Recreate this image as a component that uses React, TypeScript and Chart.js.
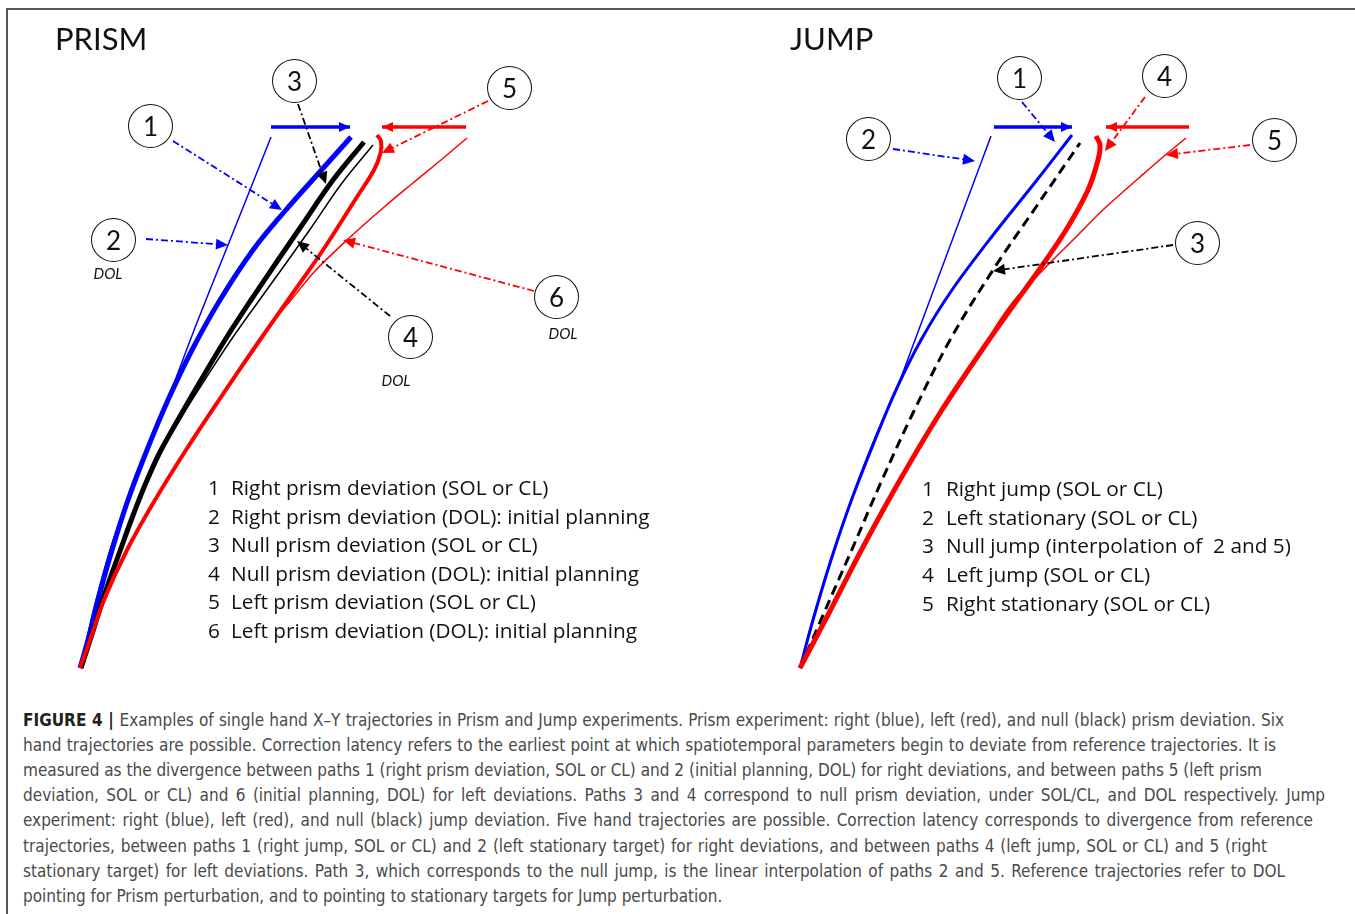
import React, { useEffect, useRef } from "react";
import { Chart, registerables } from "chart.js";

Chart.register(...registerables);

// ---------- PRISM trajectories (x: lateral, y: forward; origin = start of movement) ----------
const PRISM_P1_X = [0, 1.6, 3.6, 6.4, 9.6, 13.4, 17.6, 22.4, 28, 34.6, 41, 47.4, 54.2];
const PRISM_P1_Y = [0, 5.6, 13.6, 23.6, 33.6, 43.6, 53.6, 63.6, 73.6, 83.6, 91.4, 98.6, 106.2];

const PRISM_P2_X = [0, 1.3, 3.2, 6.0, 9.4, 13.2, 17.6, 19.8, 23.6, 28.4, 33.2, 38.2];
const PRISM_P2_Y = [0, 5.6, 13.6, 23.6, 33.6, 43.6, 53.6, 59.6, 69.6, 81.6, 93.6, 106.2];

const PRISM_P3_X = [0.2, 2.8, 5.2, 8, 10.4, 13, 16, 19.8, 24.2, 29, 34.2, 39.2, 44.4, 50.6, 56.8];
const PRISM_P3_Y = [0, 8, 15.6, 23.4, 30, 36.6, 43.2, 50, 57.6, 65.6, 73.6, 81, 88.6, 97.6, 105.2];

const PRISM_P4_X = [0.2, 2.9, 5.3, 8.1, 10.5, 13.1, 16.2, 20.4, 25.2, 30.2, 35.6, 40.8, 46.2, 52.4, 58.6];
const PRISM_P4_Y = [0, 8, 15.6, 23.4, 30, 36.6, 43.2, 50.4, 58, 65.6, 73.2, 80.4, 88, 97, 104.6];

const PRISM_P5_X = [0, 2, 4.8, 9.4, 15, 21.2, 27.8, 34.6, 41.6, 48.6, 55, 58.8, 60.1, 60.2, 59.4];
const PRISM_P5_Y = [0, 5.6, 13.6, 23.6, 33.6, 43.6, 53.6, 63.6, 73.6, 83.6, 93.6, 99.6, 103, 105.4, 106.6];

const PRISM_P6_X = [0, 1.9, 4.7, 9.3, 14.9, 21.1, 27.7, 34.4, 37.2, 42.2, 47.2, 53.4, 60.6, 66.6, 72.2, 77.4];
const PRISM_P6_Y = [0, 5.6, 13.6, 23.6, 33.6, 43.6, 53.6, 63.6, 67.6, 73.6, 79.6, 85.6, 92, 97, 101.6, 106];

const PRISM_TARGET_RIGHT_X = [38.2, 54];
const PRISM_TARGET_LEFT_X = [77.2, 60.4];
const PRISM_TARGET_Y = [108.2, 108.2];

// ---------- JUMP trajectories ----------
const JUMP_P1_X = [0, 2.6, 6.2, 10.3, 15, 19.2, 24.2, 30.4, 39.4, 47.4, 54.4];
const JUMP_P1_Y = [0, 9.6, 21.6, 33.6, 45.6, 55.6, 65.6, 75.6, 87.6, 97.6, 106.6];

const JUMP_P2_X = [0, 2.5, 6.1, 10.2, 14.8, 19.2, 23, 26.8, 30.6, 34.4, 38.2];
const JUMP_P2_Y = [0, 9.6, 21.6, 33.6, 45.6, 55.6, 65.6, 75.8, 86, 96.2, 106.4];

const JUMP_P3_X = [0, 4.8, 10.6, 16.4, 22.6, 30, 38.6, 47.2, 56];
const JUMP_P3_Y = [0, 11, 24.2, 37.6, 51, 65.6, 79.6, 92.2, 105];

const JUMP_P4_X = [0, 5.8, 12.6, 20, 28, 36.4, 42, 47.8, 53.2, 57.6, 59.6, 60, 59.2];
const JUMP_P4_Y = [0, 11, 24.2, 37.6, 51, 63.6, 71.6, 79.6, 87.6, 95.6, 101.6, 104.6, 106.4];

const JUMP_P5_X = [0, 5.8, 12.6, 20, 28, 36.4, 40, 43.4, 49, 54.6, 61, 68, 72.6, 77.2];
const JUMP_P5_Y = [0, 11, 24.2, 37.6, 51, 63.6, 69.6, 74.2, 80, 85.6, 92, 98.2, 102.2, 106];

const JUMP_TARGET_RIGHT_X = [38.8, 54.4];
const JUMP_TARGET_LEFT_X = [77.8, 61.2];
const JUMP_TARGET_Y = [108.2, 108.2];

// ---------- legends / labels ----------
const PRISM_LEGEND = [
  "Right prism deviation (SOL or CL)",
  "Right prism deviation (DOL): initial planning",
  "Null prism deviation (SOL or CL)",
  "Null prism deviation (DOL): initial planning",
  "Left prism deviation (SOL or CL)",
  "Left prism deviation (DOL): initial planning",
];
const JUMP_LEGEND = [
  "Right jump (SOL or CL)",
  "Left stationary (SOL or CL)",
  "Null jump (interpolation of  2 and 5)",
  "Left jump (SOL or CL)",
  "Right stationary (SOL or CL)",
];

const CAPTION_LINES = [
  "Examples of single hand X\u2013Y trajectories in Prism and Jump experiments. Prism experiment: right (blue), left (red), and null (black) prism deviation. Six",
  "hand trajectories are possible. Correction latency refers to the earliest point at which spatiotemporal parameters begin to deviate from reference trajectories. It is",
  "measured as the divergence between paths 1 (right prism deviation, SOL or CL) and 2 (initial planning, DOL) for right deviations, and between paths 5 (left prism",
  "deviation, SOL or CL) and 6 (initial planning, DOL) for left deviations. Paths 3 and 4 correspond to null prism deviation, under SOL/CL, and DOL respectively. Jump",
  "experiment: right (blue), left (red), and null (black) jump deviation. Five hand trajectories are possible. Correction latency corresponds to divergence from reference",
  "trajectories, between paths 1 (right jump, SOL or CL) and 2 (left stationary target) for right deviations, and between paths 4 (left jump, SOL or CL) and 5 (right",
  "stationary target) for left deviations. Path 3, which corresponds to the null jump, is the linear interpolation of paths 2 and 5. Reference trajectories refer to DOL",
  "pointing for Prism perturbation, and to pointing to stationary targets for Jump perturbation.",
];
// right edge of each caption line in the reference (px); 0 = natural (last line)
const CAPTION_RIGHT = [1284, 1276, 1262, 1325, 1313, 1267, 1285, 0];

const BLUE = "#0000ff";
const RED = "#ff0000";
const BLACK = "#000000";

// call-out pointers, in each panel's data units
const CALLOUTS = [
  { panel: "prism", from: [18.6, 105.4], to: [40.4, 91.6], color: BLUE },
  { panel: "prism", from: [13.2, 85.8], to: [29.6, 84.6], color: BLUE },
  { panel: "prism", from: [43.6, 112.8], to: [49.2, 96.8], color: BLACK },
  { panel: "prism", from: [62, 70.4], to: [43.4, 85.4], color: BLACK },
  { panel: "prism", from: [81.6, 113.4], to: [60.4, 103], color: RED },
  { panel: "prism", from: [90.8, 75.4], to: [52.6, 85.6], color: RED },
  { panel: "jump", from: [44.4, 113.2], to: [51, 105.2], color: BLUE },
  { panel: "jump", from: [18.6, 103.8], to: [35, 101.4], color: BLUE },
  { panel: "jump", from: [74.6, 84.6], to: [38.6, 79.4], color: BLACK },
  { panel: "jump", from: [69, 114.2], to: [61, 103.4], color: RED },
  { panel: "jump", from: [90, 104.6], to: [73.2, 102.6], color: RED },
];

// numbered circle badges (page layout, px)
const BADGES = [
  { n: "1", cx: 150, cy: 126 },
  { n: "2", cx: 113, cy: 240 },
  { n: "3", cx: 294, cy: 81 },
  { n: "4", cx: 410, cy: 337 },
  { n: "5", cx: 509, cy: 88 },
  { n: "6", cx: 556, cy: 297 },
  { n: "1", cx: 1019, cy: 78 },
  { n: "2", cx: 868, cy: 139 },
  { n: "3", cx: 1197, cy: 243 },
  { n: "4", cx: 1164, cy: 76 },
  { n: "5", cx: 1274, cy: 140 },
];
const DOL_LABELS = [
  { cx: 108, cy: 273 },
  { cx: 396, cy: 380 },
  { cx: 563, cy: 333 },
];

const xy = (xs: number[], ys: number[]) => xs.map((x, i) => ({ x, y: ys[i] }));

function drawHead(ctx: CanvasRenderingContext2D, x0: number, y0: number, x1: number, y1: number, color: string, len: number, half: number) {
  const a = Math.atan2(y1 - y0, x1 - x0);
  const bx = x1 - len * Math.cos(a);
  const by = y1 - len * Math.sin(a);
  ctx.fillStyle = color;
  ctx.beginPath();
  ctx.moveTo(x1, y1);
  ctx.lineTo(bx + half * Math.sin(a), by - half * Math.cos(a));
  ctx.lineTo(bx - half * Math.sin(a), by + half * Math.cos(a));
  ctx.closePath();
  ctx.fill();
}

const annotPlugin = {
  id: "annot",
  afterDatasetsDraw(chart: any) {
    const ctx: CanvasRenderingContext2D = chart.ctx;
    ctx.save();
    chart.data.datasets.forEach((ds: any, i: number) => {
      if (!ds.arrowEnd) return;
      const pts = chart.getDatasetMeta(i).data;
      const a = pts[pts.length - 2];
      const b = pts[pts.length - 1];
      drawHead(ctx, a.x, a.y, b.x, b.y, ds.borderColor, 11, 5);
    });
    CALLOUTS.forEach((c) => {
      const xs = chart.scales[c.panel === "prism" ? "x" : "x2"];
      const ys = chart.scales[c.panel === "prism" ? "y" : "y2"];
      const x0 = xs.getPixelForValue(c.from[0]);
      const y0 = ys.getPixelForValue(c.from[1]);
      const x1 = xs.getPixelForValue(c.to[0]);
      const y1 = ys.getPixelForValue(c.to[1]);
      const a = Math.atan2(y1 - y0, x1 - x0);
      const bx = x1 - 11 * Math.cos(a);
      const by = y1 - 11 * Math.sin(a);
      ctx.strokeStyle = c.color;
      ctx.lineWidth = 1.8;
      ctx.setLineDash([7, 3, 2, 3]);
      ctx.beginPath();
      ctx.moveTo(x0, y0);
      ctx.lineTo(bx, by);
      ctx.stroke();
      ctx.setLineDash([]);
      drawHead(ctx, x0, y0, x1, y1, c.color, 12, 5.5);
    });
    ctx.restore();
  },
};

function line(data: any[], color: string, width: number, panel: "prism" | "jump", extra: any = {}) {
  return {
    data,
    showLine: true,
    borderColor: color,
    backgroundColor: color,
    borderWidth: width,
    pointRadius: 0,
    pointHoverRadius: 0,
    tension: 0.35,
    fill: false,
    clip: false,
    xAxisID: panel === "prism" ? "x" : "x2",
    yAxisID: panel === "prism" ? "y" : "y2",
    ...extra,
  };
}

const HAND = "Lato, 'Open Sans', sans-serif";
const LEGEND_FONT = "'Open Sans', Lato, sans-serif";
const CAPTION_FONT = "'Liberation Sans Narrow', 'DejaVu Sans Condensed', 'Liberation Sans', sans-serif";

export default function App() {
  const canvasRef = useRef<HTMLCanvasElement | null>(null);

  useEffect(() => {
    if (!canvasRef.current) return;
    const datasets = [
      line(xy(PRISM_TARGET_RIGHT_X, PRISM_TARGET_Y), BLUE, 3.5, "prism", { arrowEnd: true, tension: 0 }),
      line(xy(PRISM_TARGET_LEFT_X, PRISM_TARGET_Y), RED, 3.5, "prism", { arrowEnd: true, tension: 0 }),
      line(xy(PRISM_P5_X, PRISM_P5_Y), RED, 4, "prism"),
      line(xy(PRISM_P3_X, PRISM_P3_Y), BLACK, 5, "prism"),
      line(xy(PRISM_P1_X, PRISM_P1_Y), BLUE, 5, "prism"),
      line(xy(PRISM_P2_X, PRISM_P2_Y), BLUE, 1.5, "prism"),
      line(xy(PRISM_P4_X, PRISM_P4_Y), BLACK, 1.5, "prism"),
      line(xy(PRISM_P6_X, PRISM_P6_Y), RED, 1.5, "prism"),

      line(xy(JUMP_TARGET_RIGHT_X, JUMP_TARGET_Y), BLUE, 3.5, "jump", { arrowEnd: true, tension: 0 }),
      line(xy(JUMP_TARGET_LEFT_X, JUMP_TARGET_Y), RED, 3.5, "jump", { arrowEnd: true, tension: 0 }),
      line(xy(JUMP_P4_X, JUMP_P4_Y), RED, 5, "jump"),
      line(xy(JUMP_P3_X, JUMP_P3_Y), BLACK, 3, "jump", { borderDash: [10, 6] }),
      line(xy(JUMP_P1_X, JUMP_P1_Y), BLUE, 3, "jump"),
      line(xy(JUMP_P2_X, JUMP_P2_Y), BLUE, 1.5, "jump"),
      line(xy(JUMP_P5_X, JUMP_P5_Y), RED, 1.5, "jump"),
    ];
    const chart = new Chart(canvasRef.current, {
      type: "scatter",
      data: { datasets } as any,
      options: {
        animation: false,
        responsive: true,
        maintainAspectRatio: false,
        events: [],
        layout: { padding: 0 },
        plugins: { legend: { display: false }, tooltip: { enabled: false } },
        scales: {
          x: { type: "linear", display: false, min: -16, max: 255 },
          y: { type: "linear", display: false, min: -4.4, max: 133.6 },
          x2: { type: "linear", display: false, min: -160, max: 111 },
          y2: { type: "linear", display: false, min: -4.4, max: 133.6 },
        },
      } as any,
      plugins: [annotPlugin as any],
    });
    return () => chart.destroy();
  }, []);

  return (
    <div style={{ position: "absolute", left: 0, top: 0, width: 1355, height: 914, background: "#fff", overflow: "hidden" }}>
      <div style={{ position: "absolute", left: 6, top: 8, width: 1349, height: 906, borderTop: "2px solid #555", borderLeft: "2px solid #555", boxSizing: "border-box" }} />
      <div style={{ position: "absolute", left: 0, top: 0, width: 1355, height: 690 }}>
        <canvas ref={canvasRef} />
      </div>

      <div style={{ position: "absolute", left: 55, top: 18, fontFamily: HAND, fontSize: 31, lineHeight: "40px", color: "#111" }}>PRISM</div>
      <div style={{ position: "absolute", left: 790, top: 18, fontFamily: HAND, fontSize: 31, lineHeight: "40px", color: "#111" }}>JUMP</div>

      {BADGES.map((b, i) => (
        <div key={"b" + i} style={{ position: "absolute", left: b.cx - 22, top: b.cy - 22, width: 45, height: 44, border: "1.5px solid #111", borderRadius: "50%", boxSizing: "border-box", display: "flex", alignItems: "center", justifyContent: "center", fontFamily: HAND, fontSize: 26, color: "#111" }}>{b.n}</div>
      ))}
      {DOL_LABELS.map((d, i) => (
        <div key={"d" + i} style={{ position: "absolute", left: d.cx - 30, top: d.cy - 10, width: 60, textAlign: "center", fontFamily: HAND, fontStyle: "italic", fontSize: 15, lineHeight: "20px", color: "#111" }}>DOL</div>
      ))}

      {PRISM_LEGEND.map((t, i) => (
        <div key={"pl" + i} style={{ position: "absolute", left: 208, top: 487 + i * 28.6 - 14, fontFamily: LEGEND_FONT, fontSize: 20.8, lineHeight: "28px", color: "#111", whiteSpace: "pre" }}>
          <span style={{ display: "inline-block", width: 23 }}>{i + 1}</span>{t}
        </div>
      ))}
      {JUMP_LEGEND.map((t, i) => (
        <div key={"jl" + i} style={{ position: "absolute", left: 922, top: 488 + i * 28.7 - 14, fontFamily: LEGEND_FONT, fontSize: 20.8, lineHeight: "28px", color: "#111", whiteSpace: "pre" }}>
          <span style={{ display: "inline-block", width: 24 }}>{i + 1}</span>{t}
        </div>
      ))}

      {CAPTION_LINES.map((t, i) => (
        <div
          key={"c" + i}
          style={{
            position: "absolute",
            left: 23,
            top: 720 + i * 25.1 - 12,
            width: CAPTION_RIGHT[i] ? CAPTION_RIGHT[i] - 23 : undefined,
            fontFamily: CAPTION_FONT,
            fontSize: 17,
            lineHeight: "24px",
            color: "#4a4a4a",
            whiteSpace: "nowrap",
            textAlign: CAPTION_RIGHT[i] ? "justify" : "left",
            textAlignLast: CAPTION_RIGHT[i] ? "justify" : "auto",
          } as any}
        >
          {i === 0 ? <b style={{ color: "#222" }}>FIGURE 4 | </b> : null}{t}
        </div>
      ))}
    </div>
  );
}
